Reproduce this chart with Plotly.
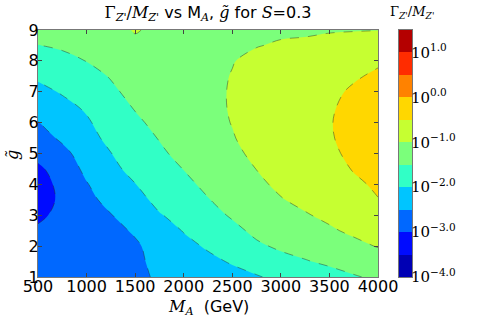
import numpy as np
import plotly.graph_objects as go

# M_A grid (GeV) and g-tilde grid
m_a = [500, 750, 1000, 1250, 1500, 1750, 2000, 2250, 2500, 2750, 3000, 3250, 3500, 3750, 4000]
g_tilde = [1.0, 1.5, 2.0, 2.5, 3.0, 3.5, 4.0, 4.5, 5.0, 5.5, 6.0, 6.5, 7.0, 7.5, 8.0, 8.5, 9.0]

# log10(Gamma_Z'/M_Z'), one list per M_A column (g = 1 .. 9)
log_width = [
    [-2.85, -2.89, -2.92, -2.96, -3.05, -3.12, -3.11, -3.07, -2.88, -2.70, -2.52, -2.32, -2.13, -1.93, -1.72, -1.51, -1.30],
    [-2.78, -2.82, -2.86, -2.90, -2.93, -2.95, -2.93, -2.82, -2.64, -2.42, -2.26, -2.13, -1.96, -1.80, -1.62, -1.44, -1.28],
    [-2.70, -2.73, -2.76, -2.78, -2.76, -2.68, -2.53, -2.38, -2.27, -2.16, -2.06, -1.94, -1.80, -1.67, -1.49, -1.32, -1.20],
    [-2.63, -2.65, -2.66, -2.63, -2.52, -2.30, -2.20, -2.10, -2.01, -1.88, -1.78, -1.69, -1.59, -1.47, -1.33, -1.20, -1.10],
    [-2.55, -2.56, -2.56, -2.45, -2.30, -2.15, -2.01, -1.88, -1.77, -1.67, -1.58, -1.47, -1.35, -1.24, -1.14, -1.06, -0.98],
    [-2.47, -2.42, -2.33, -2.20, -2.03, -1.88, -1.76, -1.66, -1.57, -1.48, -1.38, -1.28, -1.20, -1.14, -1.10, -1.08, -1.06],
    [-2.36, -2.25, -2.12, -1.98, -1.85, -1.73, -1.61, -1.49, -1.38, -1.28, -1.22, -1.16, -1.12, -1.10, -1.09, -1.09, -1.09],
    [-2.25, -2.10, -1.95, -1.80, -1.66, -1.52, -1.40, -1.28, -1.18, -1.11, -1.10, -1.07, -1.065, -1.065, -1.07, -1.08, -1.09],
    [-2.14, -1.96, -1.80, -1.62, -1.45, -1.32, -1.21, -1.13, -1.07, -1.02, -0.99, -0.98, -0.98, -0.99, -1.01, -1.05, -1.08],
    [-2.03, -1.83, -1.57, -1.40, -1.28, -1.16, -1.07, -0.995, -0.93, -0.88, -0.85, -0.84, -0.85, -0.88, -0.94, -1.01, -1.06],
    [-1.91, -1.64, -1.43, -1.26, -1.13, -1.02, -0.93, -0.86, -0.80, -0.76, -0.74, -0.74, -0.76, -0.80, -0.87, -0.975, -1.04],
    [-1.79, -1.53, -1.33, -1.17, -1.03, -0.91, -0.82, -0.74, -0.68, -0.64, -0.62, -0.62, -0.65, -0.70, -0.78, -0.94, -1.05],
    [-1.67, -1.42, -1.22, -1.05, -0.92, -0.81, -0.71, -0.63, -0.57, -0.53, -0.52, -0.54, -0.58, -0.65, -0.75, -0.88, -1.03],
    [-1.54, -1.30, -1.10, -0.93, -0.79, -0.66, -0.56, -0.48, -0.42, -0.39, -0.38, -0.40, -0.45, -0.54, -0.66, -0.82, -1.02],
    [-1.42, -1.18, -0.98, -0.82, -0.65, -0.51, -0.45, -0.38, -0.33, -0.30, -0.29, -0.31, -0.36, -0.44, -0.55, -0.75, -1.01],
]

# colour bar: band centres (half decades from 10^-4 to 10^1.5) and labelled ticks
cbar_bands = [-3.75, -3.25, -2.75, -2.25, -1.75, -1.25, -0.75, -0.25, 0.25, 0.75, 1.25]
cbar_ticks = [-4, -3, -2, -1, 0, 1]
cbar_labels = ["10<sup>−4.0</sup>", "10<sup>−3.0</sup>", "10<sup>−2.0</sup>",
               "10<sup>−1.0</sup>", "10<sup>0.0</sup>", "10<sup>1.0</sup>"]

# jet sampled at the 11 band centres
JET = ["#0000b4", "#000bff", "#0068ff", "#00c5ff", "#31ffc6", "#7bff7b",
       "#c6ff31", "#ffd700", "#ff8200", "#ff2c00", "#b40000"]
colorscale = [[i / (len(JET) - 1), c] for i, c in enumerate(JET)]

SERIF = "DejaVu Serif"
SANS = "DejaVu Sans"

# plot spans x 38..378, y 30..277; colour bar x 399..412
W, H = 491, 327
ML, MR, MT, MB = 38, 20, 30, 50
PW, PH = W - ML - MR, H - MT - MB


def px(xp):
    return (xp - ML) / PW


def py(yp):
    return 1 - (yp - MT) / PH


z = np.array(log_width).T

fig = go.Figure()
fig.add_trace(go.Contour(
    x=m_a, y=g_tilde, z=z,
    colorscale=colorscale, showscale=False,
    autocontour=False,
    contours=dict(start=-3.5, end=1.0, size=0.5, coloring="fill"),
    line=dict(color="rgba(40,40,40,0.55)", width=0.8, dash="dash", smoothing=1.0),
    hovertemplate="M_A=%{x}<br>g=%{y}<br>log10 Γ/M=%{z:.2f}<extra></extra>",
))

fig.add_trace(go.Heatmap(
    x=[0], y=cbar_bands, z=[[b] for b in cbar_bands],
    zmin=cbar_bands[0], zmax=cbar_bands[-1],
    colorscale=colorscale, showscale=False,
    xaxis="x2", yaxis="y2", hoverinfo="skip",
))

axis_common = dict(
    ticks="inside", ticklen=4, tickcolor="#444", mirror="ticks",
    showline=True, linecolor="#777", linewidth=1, showgrid=False, zeroline=False,
    tickfont=dict(size=16), automargin=False, ticklabelstandoff=-5,
)

math = lambda s: f'<span style="font-family:{SERIF}">{s}</span>'
width_label = math("Γ<sub><i>Z'</i></sub>/<i>M</i><sub><i>Z'</i></sub>")

fig.update_layout(
    width=W, height=H,
    margin=dict(l=ML, r=MR, t=MT, b=MB),
    paper_bgcolor="white", plot_bgcolor="white",
    font=dict(family=SANS, size=15, color="black"),
    title=dict(
        text=(f"{width_label} vs M{math('<sub><i>A</i></sub>')},"
              f" {math('<i>g̃</i>')} for {math('<i>S</i>')}=0.3"),
        x=208 / W, xanchor="center", y=1 - 12 / H, yanchor="middle",
        font=dict(size=16),
    ),
    xaxis=dict(
        domain=[0, px(378)], range=[500, 4000],
        tickvals=[500, 1000, 1500, 2000, 2500, 3000, 3500, 4000],
        **axis_common,
    ),
    yaxis=dict(range=[1, 9], dtick=1, **axis_common),
    xaxis2=dict(domain=[px(399), px(412)], range=[-0.5, 0.5],
                showticklabels=False, ticks="", showline=True, mirror=True,
                linecolor="#777", linewidth=1, showgrid=False, zeroline=False,
                anchor="y2"),
    yaxis2=dict(domain=[0, 1], range=[-4, 1.5], anchor="x2", side="right",
                tickvals=cbar_ticks, ticktext=cbar_labels, ticks="",
                showline=True, mirror=True, linecolor="#777", linewidth=1,
                showgrid=False, zeroline=False, automargin=False,
                ticklabelstandoff=-5,
                tickfont=dict(family=SERIF, size=15, color="black")),
    annotations=[
        dict(text=width_label, xref="paper", yref="paper", x=px(412), y=py(13),
             xanchor="center", yanchor="middle", showarrow=False, font=dict(size=13)),
        dict(text=f"{math('<i>M</i><sub><i>A</i></sub>')}  (GeV)",
             xref="paper", yref="paper", x=px(208), y=py(307),
             xanchor="center", yanchor="middle", showarrow=False, font=dict(size=16)),
        dict(text=math("<i>g̃</i>"), xref="paper", yref="paper", x=px(12), y=py(155),
             xanchor="center", yanchor="middle", textangle=-90, showarrow=False,
             font=dict(size=16)),
    ],
)

# drop the browser's default 8px body margin so the figure sits at the window corner
fig.write_html("out.html", config={"displayModeBar": False},
               post_script="document.body.style.margin='0';")
